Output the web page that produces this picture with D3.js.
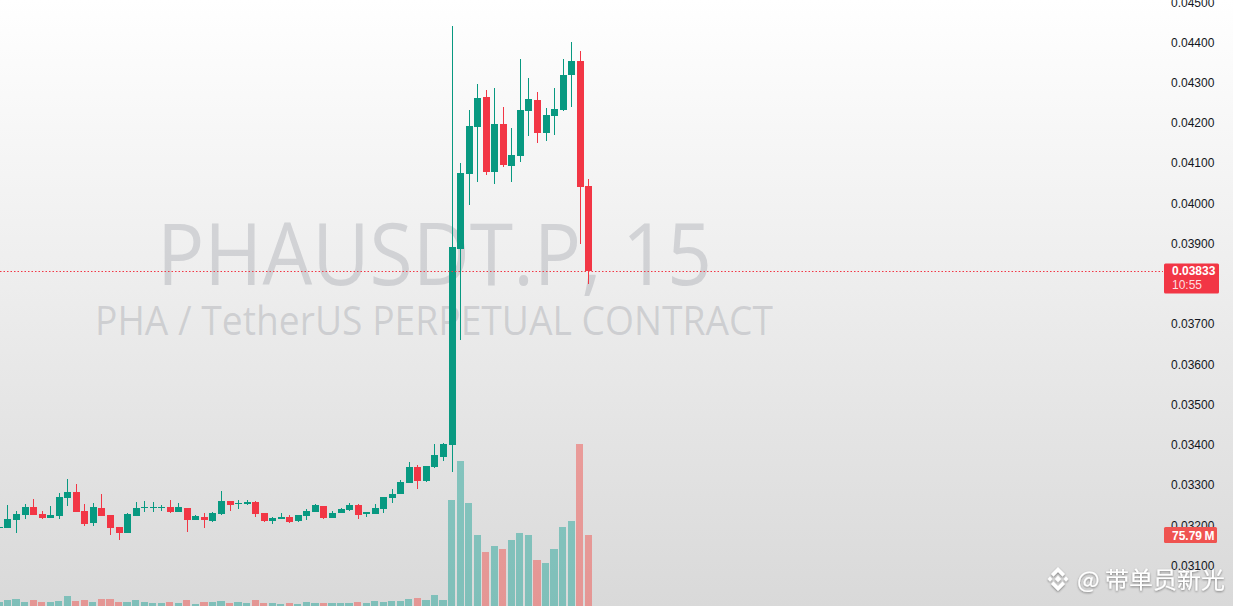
<!DOCTYPE html>
<html><head><meta charset="utf-8">
<script src="https://cdn.jsdelivr.net/npm/d3@7/dist/d3.min.js"></script>
<style>html,body{margin:0;padding:0;overflow:hidden;background:#fff}svg{display:block}</style>
</head><body><svg id="c" width="1233" height="606"></svg>
<script>
// ---- data (15m candles, PHAUSDT.P) ----
const opens = [0.03195,0.03194,0.03213,0.03226,0.03245,0.03228,0.03219,0.03223,0.03269,0.03283,
0.03235,0.03206,0.03243,0.03226,0.03196,0.03181,0.03224,0.03243,0.03242,0.03243,
0.03245,0.03233,0.03243,0.03212,0.03221,0.03211,0.03228,0.03260,0.03254,0.03253,
0.03258,0.03230,0.03211,0.03216,0.03221,0.03211,0.03223,0.03233,0.03248,0.03218,
0.03230,0.03238,0.03250,0.03228,0.03228,0.03240,0.03268,0.03278,0.03305,0.03345,
0.03310,0.03345,0.03370,0.03400,0.03887,0.04073,0.04190,0.04264,0.04078,0.04197,
0.04093,0.04118,0.04230,0.04257,0.04175,0.04217,0.04232,0.04319,0.04354,0.04043];
const closes = [0.03196,0.03215,0.03228,0.03245,0.03226,0.03219,0.03226,0.03270,0.03283,0.03233,
0.03204,0.03245,0.03224,0.03194,0.03181,0.03228,0.03243,0.03245,0.03245,0.03245,
0.03233,0.03245,0.03213,0.03223,0.03212,0.03230,0.03260,0.03250,0.03255,0.03258,
0.03228,0.03211,0.03218,0.03221,0.03208,0.03226,0.03235,0.03250,0.03218,0.03230,
0.03240,0.03250,0.03226,0.03233,0.03243,0.03270,0.03278,0.03308,0.03345,0.03310,
0.03347,0.03375,0.03402,0.03892,0.04076,0.04192,0.04262,0.04078,0.04197,0.04095,
0.04120,0.04232,0.04259,0.04175,0.04220,0.04235,0.04319,0.04354,0.04041,0.03833];
const highs = [0.03197,0.03250,0.03235,0.03253,0.03265,0.03235,0.03248,0.03280,0.03315,0.03303,
0.03253,0.03255,0.03278,0.03226,0.03196,0.03230,0.03258,0.03260,0.03258,0.03250,
0.03263,0.03255,0.03243,0.03226,0.03230,0.03233,0.03285,0.03260,0.03263,0.03263,
0.03260,0.03230,0.03221,0.03230,0.03226,0.03226,0.03240,0.03253,0.03248,0.03235,
0.03243,0.03255,0.03253,0.03233,0.03253,0.03270,0.03290,0.03313,0.03357,0.03350,
0.03347,0.03402,0.03405,0.04441,0.04100,0.04232,0.04297,0.04282,0.04287,0.04240,
0.04187,0.04359,0.04312,0.04277,0.04237,0.04287,0.04359,0.04401,0.04379,0.04061];
const lows = [0.03194,0.03194,0.03181,0.03216,0.03226,0.03216,0.03219,0.03216,0.03248,0.03233,
0.03197,0.03197,0.03224,0.03176,0.03164,0.03181,0.03224,0.03233,0.03233,0.03235,
0.03230,0.03233,0.03183,0.03212,0.03193,0.03208,0.03226,0.03235,0.03240,0.03250,
0.03221,0.03208,0.03203,0.03216,0.03206,0.03208,0.03213,0.03233,0.03216,0.03218,
0.03230,0.03235,0.03216,0.03221,0.03228,0.03230,0.03255,0.03278,0.03305,0.03290,
0.03308,0.03342,0.03360,0.03332,0.03660,0.03996,0.04053,0.04071,0.04048,0.04090,
0.04053,0.04103,0.04167,0.04150,0.04155,0.04170,0.04230,0.04240,0.03899,0.03800];
const volumes = [4.0,6.4,7.5,4.3,6.4,4.3,4.3,5.3,10.7,5.3,
6.4,4.3,7.5,7.5,4.3,4.3,6.4,4.3,3.2,3.2,
4.3,3.2,6.4,2.1,4.3,4.3,5.3,3.2,4.3,3.2,
6.4,3.2,3.2,2.1,3.2,2.1,4.3,3.2,3.2,3.2,
3.2,3.2,4.3,3.2,5.3,4.3,5.3,5.3,7.5,8.5,
6.4,11.7,6.4,113.2,154.8,110.0,75.8,57.6,64.0,60.8,
70.5,77.9,75.8,49.1,45.9,60.8,84.3,90.7,172.9,75.79];
// 0.038 sits under the last-price label in the reference, so it is not listed
const priceTicks = [0.031,0.032,0.033,0.034,0.035,0.036,0.037,0.039,0.040,0.041,0.042,0.043,0.044,0.045];
const lastPrice = 0.03833;
const countdown = "10:55";
const lastVolumeLabel = "75.79\u202FM";
const title1 = "PHAUSDT.P, 15";
const title2 = "PHA / TetherUS PERPETUAL CONTRACT";
const authorMark = "@ 带单员新光";

const W = 1233, H = 606;
const UP = "#089981", DOWN = "#f23645";
const svg = d3.select("#c");
const defs = svg.append("defs");
const g = defs.append("linearGradient").attr("id","bg").attr("x1",0).attr("y1",0).attr("x2",0).attr("y2",1);
g.append("stop").attr("offset","0%").attr("stop-color","#ffffff");
g.append("stop").attr("offset","100%").attr("stop-color","#d9d9d9");
const f = defs.append("filter").attr("id","sh").attr("x","-20%").attr("y","-40%").attr("width","140%").attr("height","180%");
f.append("feDropShadow").attr("dx",0).attr("dy",1).attr("stdDeviation",1.2).attr("flood-color","#000").attr("flood-opacity",0.45);

svg.append("rect").attr("width",W).attr("height",H).attr("fill","url(#bg)");

const idx = d3.range(opens.length);
const x = d3.scaleLinear().domain([0, opens.length-1]).range([-1.04, 588.2]);
const y = d3.scaleLinear().domain([0.031, 0.045]).range([565.5, 2.2]);
const vy = d3.scaleLinear().domain([0, 75.79]).range([606, 535]);

// big watermark
svg.append("text").attr("x",157).attr("y",285).attr("font-family","'Open Sans', sans-serif")
  .attr("font-size",86).attr("fill","#787b86").attr("fill-opacity",0.25)
  .attr("textLength",555).attr("lengthAdjust","spacingAndGlyphs").text(title1);
svg.append("text").attr("x",95).attr("y",335).attr("font-family","'Open Sans', sans-serif")
  .attr("font-size",41).attr("fill","#787b86").attr("fill-opacity",0.25)
  .attr("textLength",678).attr("lengthAdjust","spacingAndGlyphs").text(title2);

// volume
const bw = 7.2;
svg.append("g").attr("shape-rendering","crispEdges").selectAll("rect").data(idx).join("rect")
  .attr("x", i => x(i) - bw/2).attr("width", bw)
  .attr("y", i => vy(volumes[i])).attr("height", i => 606 - vy(volumes[i]))
  .attr("fill", i => closes[i] >= opens[i] ? "#26a69a" : "#ef5350").attr("fill-opacity",0.5);

// candles
const cg = svg.append("g").attr("shape-rendering","crispEdges");
cg.selectAll("line").data(idx).join("line")
  .attr("x1", i => Math.round(x(i)) + 0.5).attr("x2", i => Math.round(x(i)) + 0.5)
  .attr("y1", i => y(highs[i])).attr("y2", i => y(lows[i]))
  .attr("stroke", i => closes[i] >= opens[i] ? UP : DOWN).attr("stroke-width",1);
cg.selectAll("rect").data(idx).join("rect")
  .attr("x", i => Math.round(x(i)) + 0.5 - 3.5).attr("width", 7)
  .attr("y", i => y(Math.max(opens[i], closes[i])))
  .attr("height", i => Math.max(1, y(Math.min(opens[i], closes[i])) - y(Math.max(opens[i], closes[i]))))
  .attr("fill", i => closes[i] >= opens[i] ? UP : DOWN);

// last price line
svg.append("line").attr("x1",0).attr("x2",1163).attr("y1",Math.round(y(lastPrice))+0.5).attr("y2",Math.round(y(lastPrice))+0.5)
  .attr("stroke",DOWN).attr("stroke-width",1).attr("stroke-dasharray","1.5,2");

// author watermark
const wm = svg.append("g").attr("filter","url(#sh)").attr("fill","#ffffff");
const lx = 1058, ly = 579;
const dia = (cx, cy, r) => `M${cx},${cy-r}L${cx+r},${cy}L${cx},${cy+r}L${cx-r},${cy}Z`;
wm.append("path").attr("d", dia(lx, ly, 3.2));
wm.append("path").attr("d", dia(lx-8, ly, 2.4));
wm.append("path").attr("d", dia(lx+8, ly, 2.4));
wm.append("path").attr("d", `M${lx},${ly-12}L${lx+7},${ly-5}L${lx+4.5},${ly-2.5}L${lx},${ly-7}L${lx-4.5},${ly-2.5}L${lx-7},${ly-5}Z`);
wm.append("path").attr("d", `M${lx},${ly+12}L${lx+7},${ly+5}L${lx+4.5},${ly+2.5}L${lx},${ly+7}L${lx-4.5},${ly+2.5}L${lx-7},${ly+5}Z`);
wm.append("text").attr("x",1077).attr("y",588).attr("font-family","'Noto Sans CJK SC', sans-serif")
  .attr("font-size",23).attr("textLength",148).attr("lengthAdjust","spacingAndGlyphs").text(authorMark);

// price axis
const axis = d3.axisRight(y).tickValues(priceTicks).tickFormat(d3.format(".5f")).tickSize(0).tickPadding(3);
const ag = svg.append("g").attr("transform","translate(1168,0)").call(axis);
ag.select(".domain").remove();
ag.selectAll("text").attr("font-family","'Liberation Sans', Arial, sans-serif").attr("font-size",12).attr("fill","#131722");

// last price label
const py = y(lastPrice);
svg.append("rect").attr("x",1164).attr("y",py-7).attr("width",55).attr("height",30).attr("rx",1.5).attr("fill",DOWN);
svg.append("text").attr("x",1172).attr("y",py+4.5).attr("font-family","'Liberation Sans', Arial, sans-serif")
  .attr("font-size",12).attr("font-weight","bold").attr("fill","#fff").text(d3.format(".5f")(lastPrice));
svg.append("text").attr("x",1172).attr("y",py+18.5).attr("font-family","'Liberation Sans', Arial, sans-serif")
  .attr("font-size",12).attr("fill","#fff").attr("fill-opacity",0.85).text(countdown);

// last volume label
const vly = vy(volumes[volumes.length-1]);
svg.append("rect").attr("x",1164).attr("y",vly-8).attr("width",53).attr("height",16).attr("rx",1.5).attr("fill","#ef5350");
svg.append("text").attr("x",1172).attr("y",vly+4.5).attr("font-family","'Liberation Sans', Arial, sans-serif")
  .attr("font-size",12).attr("font-weight","bold").attr("fill","#fff").text(lastVolumeLabel);
</script></body></html>
